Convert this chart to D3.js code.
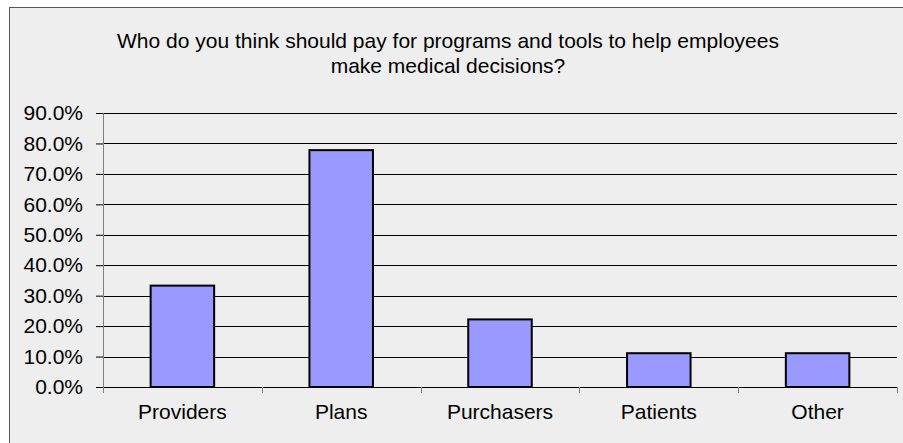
<!DOCTYPE html>
<html>
<head>
<meta charset="utf-8">
<script src="https://cdn.jsdelivr.net/npm/d3@7"></script>
<style>
  body { margin: 0; background: #fff; }
  svg { display: block; font-family: "Liberation Sans", Arial, sans-serif; }
</style>
</head>
<body>
<svg width="903" height="443"></svg>
<script>
var categories = ["Providers", "Plans", "Purchasers", "Patients", "Other"];
var shares = [0.333, 0.778, 0.222, 0.111, 0.111];
var yTicks = [0, 0.1, 0.2, 0.3, 0.4, 0.5, 0.6, 0.7, 0.8, 0.9];
var titleLines = ["Who do you think should pay for programs and tools to help employees",
                  "make medical decisions?"];

var svg = d3.select("svg"),
    margin = {top: 113, right: 6, bottom: 56, left: 103},
    width = +svg.attr("width") - margin.left - margin.right,
    height = +svg.attr("height") - margin.top - margin.bottom;

// chart frame
svg.append("rect")
    .attr("x", 9.5).attr("y", 7.5)
    .attr("width", 910).attr("height", 450)
    .attr("fill", "#eeeeee")
    .attr("stroke", "#555").attr("stroke-width", 1);

svg.append("text")
    .attr("x", 448)
    .attr("y", 48)
    .attr("text-anchor", "middle")
    .attr("font-size", 21)
    .attr("fill", "#000")
  .selectAll("tspan")
  .data(titleLines)
  .enter().append("tspan")
    .attr("x", 448)
    .attr("dy", function(d, i) { return i ? 25 : 0; })
    .text(function(d) { return d; });

var g = svg.append("g").attr("transform", "translate(" + margin.left + "," + margin.top + ")");

var x = d3.scaleBand()
    .domain(categories)
    .range([0, width])
    .paddingInner(0.6)
    .paddingOuter(0.3);

var y = d3.scaleLinear()
    .domain([0, 0.9])
    .range([height, 0]);

// gridlines
g.append("g")
  .selectAll("line")
  .data(yTicks.slice(1))
  .enter().append("line")
    .attr("x1", 0).attr("x2", width)
    .attr("y1", function(d) { return Math.round(y(d)) + 0.5; })
    .attr("y2", function(d) { return Math.round(y(d)) + 0.5; })
    .attr("stroke", "#000");

g.selectAll(".bar")
  .data(categories)
  .enter().append("rect")
    .attr("class", "bar")
    .attr("x", function(d) { return x(d); })
    .attr("y", function(d, i) { return y(shares[i]); })
    .attr("width", x.bandwidth())
    .attr("height", function(d, i) { return height - y(shares[i]); })
    .attr("fill", "#9999ff")
    .attr("stroke", "#000")
    .attr("stroke-width", 2);

// y axis
var yAxis = g.append("g")
    .attr("font-size", 21)
    .attr("font-family", null)
    .call(d3.axisLeft(y).tickValues(yTicks).tickFormat(d3.format(".1%")).tickSize(7).tickPadding(13));
yAxis.attr("font-size", 21).attr("font-family", null);
yAxis.select(".domain").attr("stroke", "#808080");
yAxis.selectAll(".tick line").attr("stroke", "#000");
yAxis.selectAll("text").attr("fill", "#000");

// x axis: ticks at category boundaries
var xAxis = g.append("g").attr("transform", "translate(0," + height + ")");
xAxis.append("line")
    .attr("x1", 0).attr("x2", width)
    .attr("y1", 0.5).attr("y2", 0.5)
    .attr("stroke", "#000");
xAxis.selectAll(".xt")
  .data(d3.range(categories.length + 1))
  .enter().append("line")
    .attr("class", "xt")
    .attr("x1", function(i) { return Math.round(i * width / categories.length) + 0.5; })
    .attr("x2", function(i) { return Math.round(i * width / categories.length) + 0.5; })
    .attr("y1", 0).attr("y2", 6)
    .attr("stroke", "#808080");
xAxis.selectAll(".xl")
  .data(categories)
  .enter().append("text")
    .attr("class", "xl")
    .attr("x", function(d) { return x(d) + x.bandwidth() / 2; })
    .attr("y", 32)
    .attr("text-anchor", "middle")
    .attr("font-size", 21)
    .text(function(d) { return d; });
</script>
</body>
</html>
